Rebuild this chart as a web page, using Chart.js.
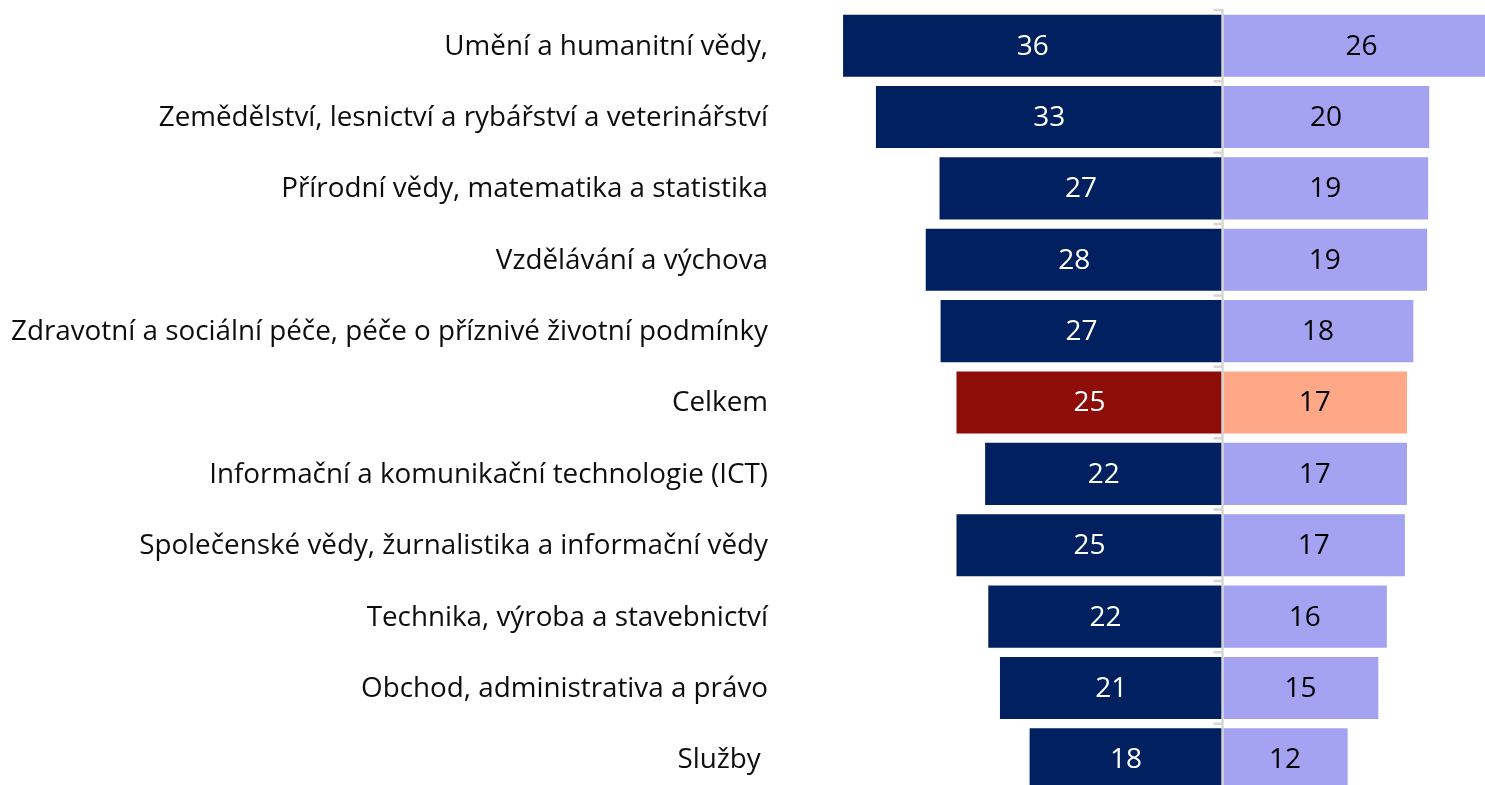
<!DOCTYPE html>
<html lang="cs">
<head>
<meta charset="UTF-8">
<title>Obory vzdělání</title>
<script src="https://cdn.jsdelivr.net/npm/chart.js"></script>
<style>
  html, body { margin: 0; padding: 0; background: #fff; overflow: hidden; }
  #wrap { width: 1485px; height: 795px; }
</style>
</head>
<body>
<div id="wrap"><canvas id="chart"></canvas></div>
<script>
// data (bar lengths; printed labels are rounded)
const categories = [
  "Umění a humanitní vědy,",
  "Zemědělství, lesnictví a rybářství a veterinářství",
  "Přírodní vědy, matematika a statistika",
  "Vzdělávání a výchova",
  "Zdravotní a sociální péče, péče o příznivé životní podmínky",
  "Celkem",
  "Informační a komunikační technologie (ICT)",
  "Společenské vědy, žurnalistika a informační vědy",
  "Technika, výroba a stavebnictví",
  "Obchod, administrativa a právo",
  "Služby "
];
const leftValues  = [35.8, 32.7, 26.7, 28.0, 26.6, 25.1, 22.4, 25.1, 22.1, 21.0, 18.2];
const rightValues = [26.2, 19.5, 19.4, 19.3, 18.0, 17.4, 17.4, 17.2, 15.5, 14.7, 11.8];
const totalLabel = "Celkem";

const FONT = "'Open Sans', Lato, sans-serif";
const LABEL_AREA = 780;   // room left of the plot for category names

const leftColors  = categories.map(c => c === totalLabel ? "#8E0D08" : "#00205F");
const rightColors = categories.map(c => c === totalLabel ? "#FFA888" : "#A3A3F2");

// category names, right aligned next to the plot
const categoryLabels = {
  id: "categoryLabels",
  afterDraw(chart) {
    const { ctx, chartArea, scales: { y } } = chart;
    ctx.save();
    ctx.font = "27.8px " + FONT;
    ctx.fillStyle = "#0d0d0d";
    ctx.textAlign = "right";
    ctx.textBaseline = "middle";
    categories.forEach((c, i) => {
      ctx.fillText(c, chartArea.left - 12, y.getPixelForValue(i) + 1);
    });
    ctx.restore();
  }
};

// value labels in the middle of each bar
const barLabels = {
  id: "barLabels",
  afterDatasetsDraw(chart) {
    const ctx = chart.ctx;
    ctx.save();
    ctx.font = "28px " + FONT;
    ctx.textAlign = "center";
    ctx.textBaseline = "middle";
    chart.data.datasets.forEach((ds, di) => {
      chart.getDatasetMeta(di).data.forEach((bar, i) => {
        ctx.fillStyle = di === 0 ? "#ffffff" : "#000000";
        ctx.fillText(Math.round(Math.abs(ds.data[i])), (bar.x + bar.base) / 2, bar.y + 1);
      });
    });
    ctx.restore();
  }
};

// grey axis line at zero with small ticks between categories
const centerAxis = {
  id: "centerAxis",
  afterDatasetsDraw(chart) {
    const { ctx, chartArea, scales: { x, y } } = chart;
    const x0 = x.getPixelForValue(0);
    const step = y.getPixelForValue(1) - y.getPixelForValue(0);
    ctx.save();
    ctx.strokeStyle = "#d6d6d6";
    ctx.lineWidth = 2.5;
    ctx.beginPath();
    ctx.moveTo(x0, chartArea.top - 1);
    ctx.lineTo(x0, chartArea.bottom);
    for (let i = 0; i <= categories.length; i++) {
      const yy = y.getPixelForValue(0) - step / 2 + i * step;
      ctx.moveTo(x0 - 9, yy);
      ctx.lineTo(x0, yy);
    }
    ctx.stroke();
    ctx.restore();
  }
};

new Chart(document.getElementById("chart"), {
  type: "bar",
  data: {
    labels: categories,
    datasets: [
      { data: leftValues.map(v => -v), backgroundColor: leftColors },
      { data: rightValues, backgroundColor: rightColors }
    ]
  },
  options: {
    indexAxis: "y",
    responsive: true,
    maintainAspectRatio: false,
    animation: false,
    layout: { padding: { top: 10, right: 0, bottom: 0, left: LABEL_AREA } },
    datasets: { bar: { categoryPercentage: 1, barPercentage: 0.87 } },
    plugins: { legend: { display: false }, tooltip: { enabled: false } },
    scales: {
      x: { stacked: true, min: -41.75, max: 24.76, display: false },
      y: { stacked: true, display: false }
    }
  },
  plugins: [centerAxis, barLabels, categoryLabels]
});
</script>
</body>
</html>
